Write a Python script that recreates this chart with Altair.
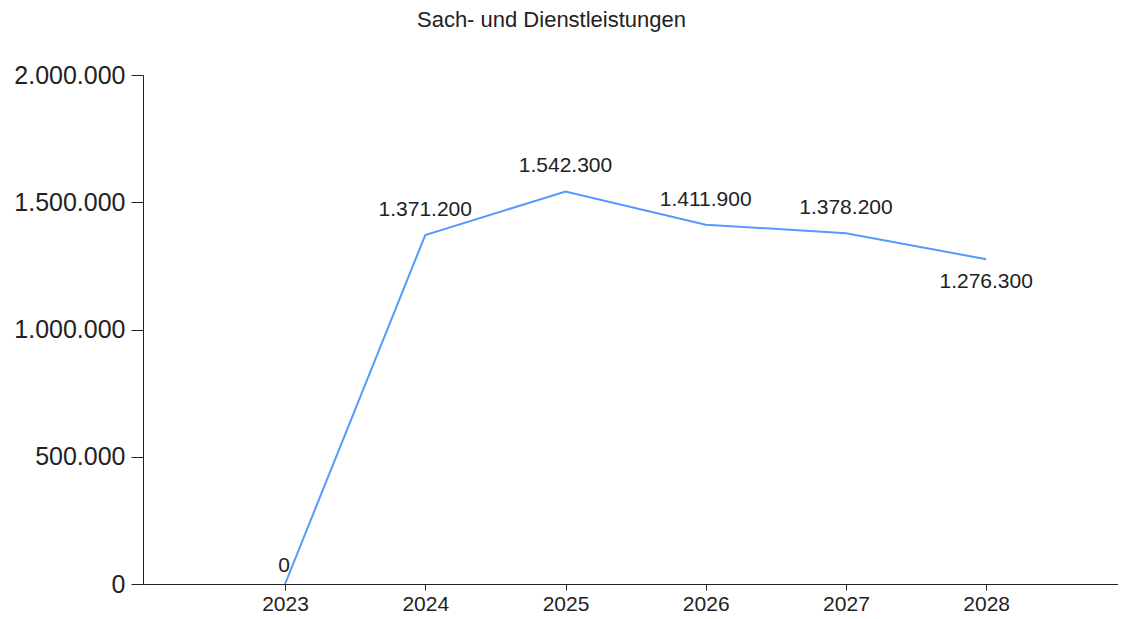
import altair as alt
import pandas as pd

years = [2023, 2024, 2025, 2026, 2027, 2028]
values = [0, 1371200, 1542300, 1411900, 1378200, 1276300]
y_ticks = [0, 500000, 1000000, 1500000, 2000000]

df = pd.DataFrame({"year": years, "value": values})
df["label"] = [f"{v:,}".replace(",", ".") for v in values]
df["pos"] = ["zero" if v == 0 else ("below" if y == 2028 else "above") for y, v in zip(years, values)]

FONT = "Liberation Sans"
LINE = "#5599FF"

x = alt.X("year:Q", scale=alt.Scale(domain=[2021.987, 2028.94], nice=False, zero=False),
          axis=alt.Axis(values=years, format="d", title=None, grid=False,
                        domainColor="#222", tickColor="#222", tickSize=6,
                        labelFont=FONT, labelFontSize=21, labelColor="#222", labelPadding=3))
y = alt.Y("value:Q", scale=alt.Scale(domain=[0, 2000000], nice=False),
          axis=alt.Axis(values=y_ticks, title=None, grid=False,
                        labelExpr="replace(replace(format(datum.value, ','), ',', '.'), ',', '.')",
                        domainColor="#222", tickColor="#222", tickSize=12,
                        labelFont=FONT, labelFontSize=25, labelColor="#222", labelPadding=6))

base = alt.Chart(df)
line = base.mark_line(color=LINE, strokeWidth=2).encode(x=x, y=y)


def labels(pos, dy, dx=0):
    return base.transform_filter(alt.datum.pos == pos).mark_text(
        font=FONT, fontSize=21, color="#222", dy=dy, dx=dx
    ).encode(x="year:Q", y="value:Q", text="label:N")


chart = alt.layer(line, labels("above", -25), labels("below", 23), labels("zero", -18, -1)).properties(
    width=975, height=509,
    autosize=alt.AutoSizeParams(type="none"),
    padding={"left": 135, "top": 67, "right": 0, "bottom": 30},
    title=alt.TitleParams("Sach- und Dienstleistungen", anchor="middle", dx=-79, offset=31,
                          frame="group", font=FONT, fontSize=22, fontWeight="normal", color="#222"),
).configure(background="white").configure_view(strokeWidth=0).configure_axis(grid=False)

chart.save("out.html", embed_options={"renderer": "svg", "actions": False})
